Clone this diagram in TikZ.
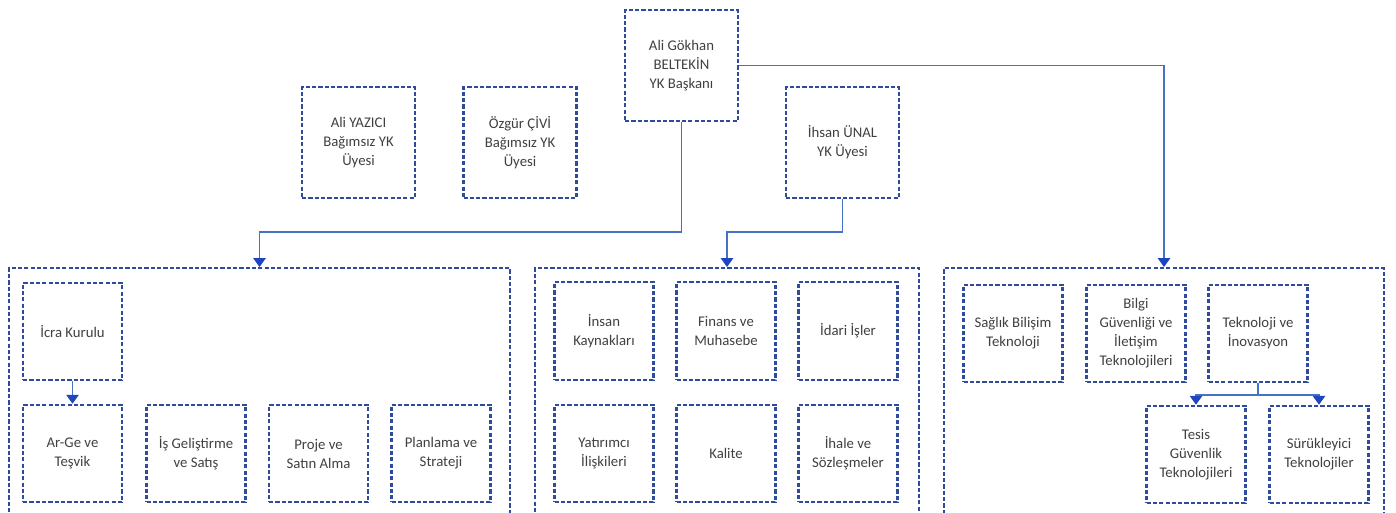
\documentclass[tikz,border=0pt]{standalone}
\usepackage{fontspec}
\setmainfont{Carlito}
\usepackage{xcolor}
\usetikzlibrary{arrows.meta}

\definecolor{boxblue}{HTML}{2F4B9E}
\definecolor{linkblue}{HTML}{4472C4}
\definecolor{tipblue}{HTML}{1F44BF}
\definecolor{txtgray}{HTML}{404040}

\begin{document}
\begin{tikzpicture}[x=0.02cm, y=-0.02cm,
    unit/.style={rectangle, draw=boxblue, line width=1.2pt, dash pattern=on 2.4pt off 1.2pt, text=txtgray, align=center, font=\fontsize{8.4}{10.8}\selectfont, inner sep=0pt},
    board/.style={unit, minimum width=2.26cm, minimum height=2.22cm},
    dept/.style={unit, minimum width=1.98cm, minimum height=1.95cm},
    group/.style={unit, anchor=north west, minimum height=5.4cm},
    link/.style={draw=linkblue, line width=0.7pt},
    arr/.style={link, -{Triangle[length=5pt, width=7pt, color=tipblue, fill=tipblue]}}]
    \useasboundingbox (0,0) rectangle (1396,512);

    % Board
    \node[board] (chair) at (681.5,65.5) {Ali Gökhan\\BELTEKİN\\YK Başkanı};
    \node[board] (yazici) at (358.5,142.5) {Ali YAZICI\\Bağımsız YK\\Üyesi};
    \node[board] (civi) at (520,142.5) {Özgür ÇİVİ\\Bağımsız YK\\Üyesi};
    \node[board] (unal) at (842.5,142.5) {İhsan ÜNAL\\YK Üyesi};

    % Groups
    \node[group, minimum width=10.02cm] (lgroup) at (8,267) {};
    \node[group, minimum width=7.68cm] (mgroup) at (534,267) {};
    \node[group, minimum width=8.8cm] (rgroup) at (943,267) {};

    % Left group
    \node[dept] (icra) at (72.5,331.5) {İcra Kurulu};
    \node[dept] (arge) at (72.5,453.5) {Ar-Ge ve\\Teşvik};
    \node[dept] (isgel) at (196,453.5) {İş Geliştirme\\ve Satış};
    \node[dept] (proje) at (318.5,453.5) {Proje ve\\Satın Alma};
    \node[dept] (plan) at (441,453.5) {Planlama ve\\Strateji};

    % Middle group
    \node[dept] (insan) at (604,331) {İnsan\\Kaynakları};
    \node[dept] (finans) at (726,331) {Finans ve\\Muhasebe};
    \node[dept] (idari) at (848,331) {İdari İşler};
    \node[dept] (yatirim) at (604,453.5) {Yatırımcı\\İlişkileri};
    \node[dept] (kalite) at (726,453.5) {Kalite};
    \node[dept] (ihale) at (848,453.5) {İhale ve\\Sözleşmeler};

    % Right group
    \node[dept] (saglik) at (1013,333.5) {Sağlık Bilişim\\Teknoloji};
    \node[dept] (bilgi) at (1136,333.5) {Bilgi\\Güvenliği ve\\İletişim\\Teknolojileri};
    \node[dept] (tekno) at (1258,333.5) {Teknoloji ve\\İnovasyon};
    \node[dept] (tesis) at (1196,454.5) {Tesis\\Güvenlik\\Teknolojileri};
    \node[dept] (surukle) at (1319,454.5) {Sürükleyici\\Teknolojiler};

    % Connections
    \draw[arr] (chair.south) -- (chair.south |- 0,232) -| (lgroup.north);
    \draw[arr] (unal.south) -- (unal.south |- 0,232) -| (mgroup.north);
    \draw[arr] (chair.east) -| (rgroup.north);
    \draw[arr] (icra) -- (arge);
    \draw[arr] (tekno.south) -- (tekno.south |- 0,395) -| (tesis.north);
    \draw[arr] (tekno.south) -- (tekno.south |- 0,395) -| (surukle.north);
\end{tikzpicture}
\end{document}
